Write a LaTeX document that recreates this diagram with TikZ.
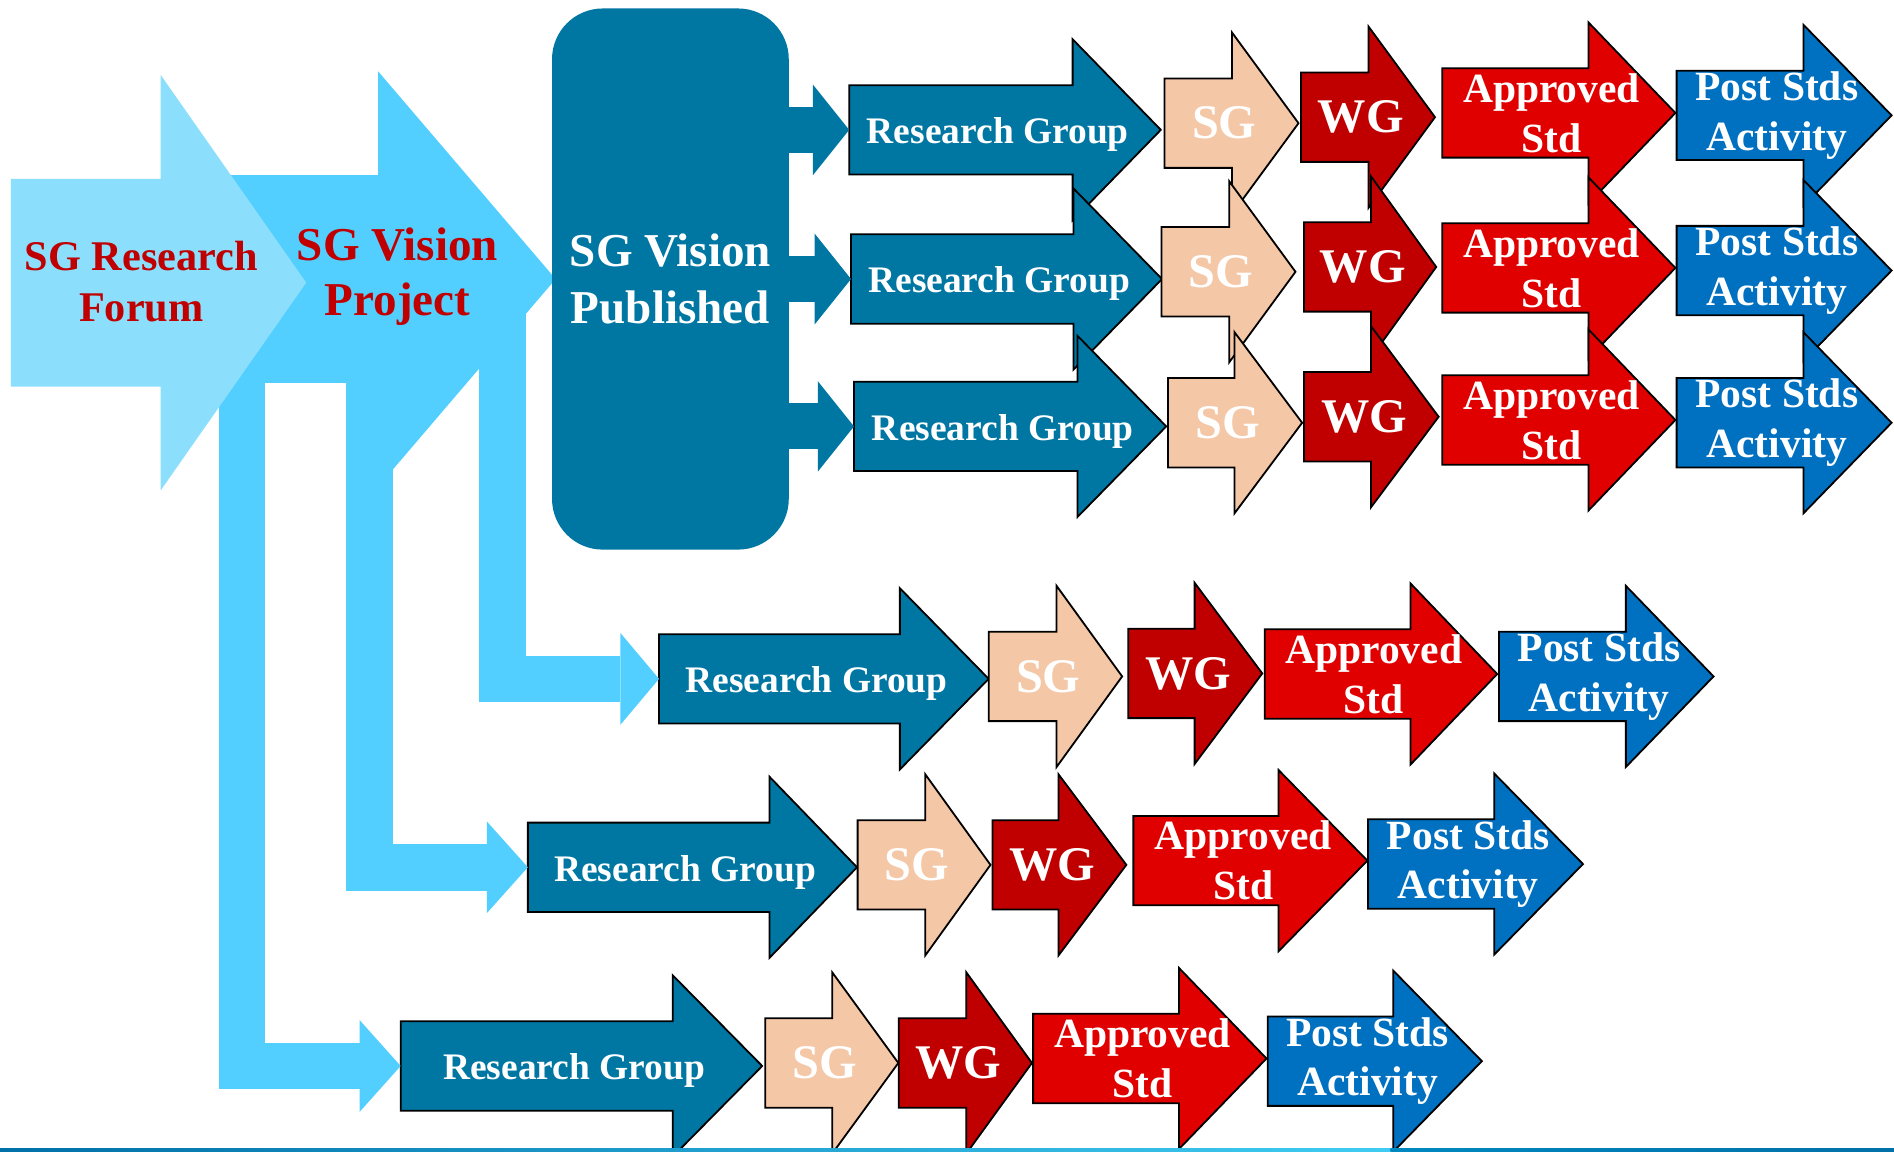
\documentclass[tikz,border=0pt]{standalone}
\usepackage{fontspec}
\setmainfont{Liberation Serif}
\usetikzlibrary{calc}
\definecolor{forumblue}{HTML}{8BDFFD}
\definecolor{visionblue}{HTML}{52CFFE}
\definecolor{rgteal}{HTML}{0077A3}
\definecolor{sgpeach}{HTML}{F4C7A6}
\definecolor{wgred}{HTML}{C00000}
\definecolor{stdred}{HTML}{E00000}
\definecolor{postblue}{HTML}{0070C0}
\definecolor{titlered}{HTML}{C00000}
\definecolor{lineteal}{HTML}{0070A8}
\definecolor{linecyan}{HTML}{40CCF2}
\definecolor{linemid}{HTML}{0088C0}
\newcommand\blockarrow[7]{% name, style, tail x, centre y, head x, tip x, text
  \draw[#2] (#3,#4-37) -- (#5,#4-37) -- (#5,#4-75) -- (#6,#4) -- (#5,#4+75) -- (#5,#4+37) -- (#3,#4+37) -- cycle;
  \coordinate (#1-w) at (#3,#4);
  \node[#2text] (#1) at ({(#3+#6)/2-6},#4) {#7};
}
\newcommand\feedhead[4]{% target, length, half width, colour
  \fill[#4] (#1) -- ++(-#2,-#3) -- ++(0,2*#3) -- cycle;
}

\begin{document}
\begin{tikzpicture}[x=0.5pt,y=-0.5pt]
		\tikzstyle{chain}=[draw=black,line width=0.75pt]
		\tikzstyle{rg}=[chain,fill=rgteal]
		\tikzstyle{sg}=[chain,fill=sgpeach]
		\tikzstyle{wg}=[chain,fill=wgred]
		\tikzstyle{std}=[chain,fill=stdred]
		\tikzstyle{post}=[chain,fill=postblue]
		\tikzstyle{rgtext}=[text=white,inner sep=0pt,yshift=-2pt,font=\fontsize{15.5}{19}\selectfont\bfseries]
		\tikzstyle{sgtext}=[text=white,inner sep=0pt,font=\fontsize{20}{24}\selectfont\bfseries]
		\tikzstyle{wgtext}=[sgtext]
		\tikzstyle{stdtext}=[text=white,inner sep=0pt,align=center,font=\fontsize{17.2}{20.6}\selectfont\bfseries]
		\tikzstyle{posttext}=[stdtext]
		\tikzstyle{feedline}=[draw=visionblue,line width=19.25pt]
		\tikzstyle{publine}=[draw=rgteal,line width=19pt]
		\tikzstyle{titletext}=[text=titlered,inner sep=0pt,align=center,font=\fontsize{17.5}{21}\selectfont\bfseries]
		\tikzstyle{pubbox}=[fill=rgteal,rounded corners=21pt,minimum width=98pt,minimum height=224pt,
								  inner sep=0pt,text=white,align=center,
								  font=\fontsize{19.5}{23.8}\selectfont\bfseries]

\useasboundingbox (0,0) rectangle (1568,953);
\clip (0,0) rectangle (1568,953);

% vision project arrow (under the forum arrow)
\fill[visionblue] (150,145) -- (313,145) -- (313,59) -- (460,231) -- (313,403) -- (313,317) -- (150,317) -- cycle;

\node[pubbox] (pub) at (555,231) {SG Vision\\Published};

% chains, one loop for each kind
\foreach \n/\ax/\ay/\hx/\px in {1/703/107.5/888/961, 2/704.5/231/888.7/962, 3/707/353/892/965.5,
                                4/545.6/562/745/818.5, 5/437/718/637/709.5, 6/331.7/882.5/557/631}
{
  \blockarrow{rg\n}{rg}{\ax}{\ay}{\hx}{\px}{Research Group}
}
\foreach \n/\ax/\ay/\hx/\px in {1/964/102/1020/1075, 2/961.5/225/1017.6/1072.5, 3/967/350/1022/1078,
                                4/818.6/560/874.7/929, 5/710/716/766/820, 6/633.5/880/689/743.7}
{
  \blockarrow{sg\n}{sg}{\ax}{\ay}{\hx}{\px}{SG}
}
\foreach \n/\ax/\ay/\hx/\px in {1/1077/97/1133/1188, 2/1079.5/221/1135/1189, 3/1079.5/345/1135/1191,
                                4/934/557.5/989/1045, 5/821.7/716/876.3/932.5, 6/744/880/800/854.3}
{
  \blockarrow{wg\n}{wg}{\ax}{\ay}{\hx}{\px}{WG}
}
\foreach \n/\ax/\ay/\hx/\px in {1/1194/93.5/1315/1387, 2/1194/221.8/1315/1387, 3/1194/347.7/1315/1387,
                                4/1047/558/1167.7/1239.5, 5/938.3/712.5/1058.5/1132, 6/855.3/876.3/976/1048.5}
{
  \blockarrow{std\n}{std}{\ax}{\ay}{\hx}{\px}{Approved\\Std}
}
\foreach \n/\ax/\ay/\hx/\px in {1/1388/95.5/1493/1566, 2/1388/224/1493/1566, 3/1388/350/1493/1566,
                                4/1241/560/1346/1418.6, 5/1132.5/715.3/1237/1310.5, 6/1049.5/878.5/1153.4/1226.8}
{
  \blockarrow{post\n}{post}{\ax}{\ay}{\hx}{\px}{Post Stds\\Activity}
}

% feeders out of the vision project
\draw[feedline] (200.5,300) |- ($(rg6-w)+(-34,0)$);
\feedhead{rg6-w}{34}{38}{visionblue}
\draw[feedline] (306,300) |- ($(rg5-w)+(-34,0)$);
\feedhead{rg5-w}{34}{38}{visionblue}
\draw[feedline] (416,255) |- ($(rg4-w)+(-32,0)$);
\feedhead{rg4-w}{32}{38}{visionblue}

% feeders out of the published box
\foreach \n in {1,2,3}
{
  \draw[publine] ($(pub.east |- rg\n-w)+(-5,0)$) -- ($(rg\n-w)+(-30,0)$);
  \feedhead{rg\n-w}{30}{37.5}{rgteal}
}

% forum arrow on top
\fill[forumblue] (9,148) -- (133,148) -- (133,62) -- (253.5,234) -- (133,406) -- (133,320) -- (9,320) -- cycle;

\node[titletext] (forum) at (117,233) {SG Research\\Forum};
\node[titletext,font=\fontsize{19.5}{23}\selectfont\bfseries] (vision) at (329,229) {SG Vision\\Project};

% rule along the bottom
\shade[left color=lineteal,right color=linecyan] (0,950.5) rectangle (1151,953);
\shade[left color=linemid,right color=lineteal] (1151,950.5) rectangle (1568,953);

\end{tikzpicture}
\end{document}
